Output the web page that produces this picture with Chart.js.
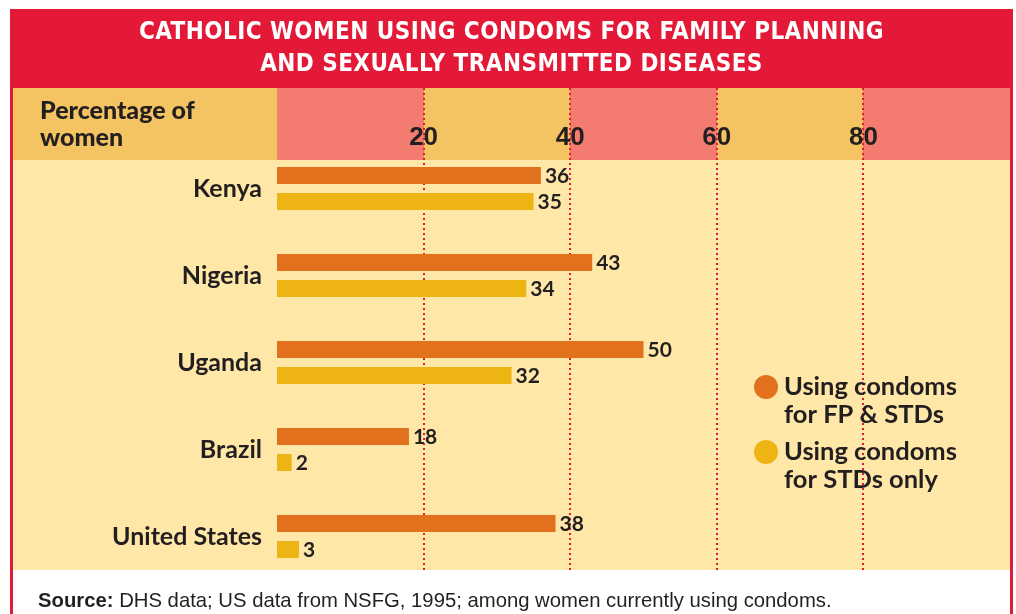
<!DOCTYPE html>
<html>
<head>
<meta charset="utf-8">
<script src="https://cdn.jsdelivr.net/npm/chart.js@4"></script>
<style>
  html, body { margin: 0; padding: 0; background: #fff; }
  #wrap { position: relative; width: 1016px; height: 614px; overflow: hidden; }
  #grafica { position: absolute; left: 0; top: 0; }
  .titulo {
    position: absolute; left: 13px; top: 15px; width: 997px;
    text-align: center; color: #fff;
    font-family: "Liberation Sans Narrow", "DejaVu Sans Condensed", sans-serif;
    font-weight: bold; font-size: 24px; line-height: 32px; letter-spacing: 0.45px;
  }
  .eje {
    position: absolute; left: 40px; top: 96px; color: #231f20;
    font-family: Lato, sans-serif; font-weight: 900; font-size: 25px; line-height: 27px;
  }
  .fuente {
    position: absolute; left: 38px; top: 589px; color: #231f20;
    font-family: "Liberation Sans", sans-serif; font-size: 20.3px; line-height: 22px;
  }
</style>
</head>
<body>
<div id="wrap">
  <canvas id="grafica" width="1016" height="614"></canvas>
  <div class="titulo">CATHOLIC WOMEN USING CONDOMS FOR FAMILY PLANNING<br>AND SEXUALLY TRANSMITTED DISEASES</div>
  <div class="eje">Percentage of<br>women</div>
  <div class="fuente"><b>Source:</b> DHS data; US data from NSFG, 1995; among women currently using condoms.</div>
</div>
<script>
// datos
const paises = ['Kenya', 'Nigeria', 'Uganda', 'Brazil', 'United States'];
const fpYStds = [36, 43, 50, 18, 38];
const soloStds = [35, 34, 32, 2, 3];
const marcasX = [20, 40, 60, 80];
const etiquetasSeries = [['Using condoms', 'for FP & STDs'], ['Using condoms', 'for STDs only']];

const ROJO = '#e31937';
const NARANJA = '#e2711d';
const AMARILLO = '#edb413';
const SALMON = '#f37b70';
const OCRE = '#f5c462';
const CREMA = '#fee7a7';
const TEXTO = '#231f20';

// fondo: marco rojo, franja de cabecera y cuerpo
const fondo = {
  id: 'fondo',
  beforeDraw(chart) {
    const ctx = chart.ctx;
    const x = chart.scales.x;
    ctx.save();
    ctx.fillStyle = '#fff';
    ctx.fillRect(0, 0, chart.width, chart.height);
    ctx.fillStyle = ROJO;
    ctx.fillRect(10, 9, 1003, 605);
    // cabecera
    ctx.fillStyle = OCRE;
    ctx.fillRect(13, 88, 264, 72);
    const bordes = [x.min].concat(marcasX, [x.max]);
    for (let i = 0; i < bordes.length - 1; i++) {
      const a = x.getPixelForValue(bordes[i]);
      const b = x.getPixelForValue(bordes[i + 1]);
      ctx.fillStyle = i % 2 === 0 ? SALMON : OCRE;
      ctx.fillRect(a, 88, b - a, 72);
    }
    // cuerpo
    ctx.fillStyle = CREMA;
    ctx.fillRect(13, 160, 997, 410);
    // pie
    ctx.fillStyle = '#fff';
    ctx.fillRect(13, 570, 997, 44);
    // lineas punteadas
    ctx.strokeStyle = ROJO;
    ctx.lineWidth = 2;
    ctx.setLineDash([2, 3]);
    marcasX.forEach(v => {
      const px = Math.round(x.getPixelForValue(v));
      ctx.beginPath();
      ctx.moveTo(px, 88);
      ctx.lineTo(px, 570);
      ctx.stroke();
    });
    ctx.setLineDash([]);
    // numeros del eje
    ctx.fillStyle = TEXTO;
    ctx.font = 'bold 26px "Liberation Sans Narrow", sans-serif';
    ctx.textAlign = 'center';
    ctx.textBaseline = 'middle';
    marcasX.forEach(v => {
      ctx.fillText(String(v), x.getPixelForValue(v), 138);
    });
    ctx.restore();
  }
};

// valores al final de cada barra
const valores = {
  id: 'valores',
  afterDatasetsDraw(chart) {
    const ctx = chart.ctx;
    ctx.save();
    ctx.fillStyle = TEXTO;
    ctx.font = 'bold 21px Lato, sans-serif';
    ctx.textAlign = 'left';
    ctx.textBaseline = 'middle';
    chart.data.datasets.forEach((ds, i) => {
      chart.getDatasetMeta(i).data.forEach((bar, j) => {
        ctx.fillText(String(ds.data[j]), bar.x + 4, bar.y + 1);
      });
    });
    ctx.restore();
  }
};

// leyenda con circulos
const leyenda = {
  id: 'leyenda',
  afterDraw(chart) {
    const ctx = chart.ctx;
    ctx.save();
    ctx.font = 'bold 25.5px Lato, sans-serif';
    ctx.textAlign = 'left';
    ctx.textBaseline = 'middle';
    chart.data.datasets.forEach((ds, i) => {
      const y = 387 + i * 65;
      ctx.fillStyle = ds.backgroundColor;
      ctx.beginPath();
      ctx.arc(766, y, 12, 0, Math.PI * 2);
      ctx.fill();
      ctx.fillStyle = TEXTO;
      ds.label.forEach((linea, k) => {
        ctx.fillText(linea, 784, y + k * 28);
      });
    });
    ctx.restore();
  }
};

new Chart(document.getElementById('grafica'), {
  type: 'bar',
  data: {
    labels: paises,
    datasets: [
      { label: etiquetasSeries[0], data: fpYStds, backgroundColor: NARANJA },
      { label: etiquetasSeries[1], data: soloStds, backgroundColor: AMARILLO }
    ]
  },
  options: {
    indexAxis: 'y',
    responsive: false,
    animation: false,
    events: [],
    categoryPercentage: 0.598,
    barPercentage: 0.654,
    layout: { padding: { left: 0, top: 145, right: 6, bottom: 34 } },
    scales: {
      x: { min: 0, max: 100, display: false },
      y: {
        afterFit(scale) { scale.width = 277; },
        grid: { display: false, drawTicks: false },
        border: { display: false },
        ticks: {
          padding: 15,
          color: TEXTO,
          font: { family: 'Lato', weight: 'bold', size: 25 }
        }
      }
    },
    plugins: {
      legend: { display: false },
      tooltip: { enabled: false }
    }
  },
  plugins: [fondo, valores, leyenda]
});
</script>
</body>
</html>
